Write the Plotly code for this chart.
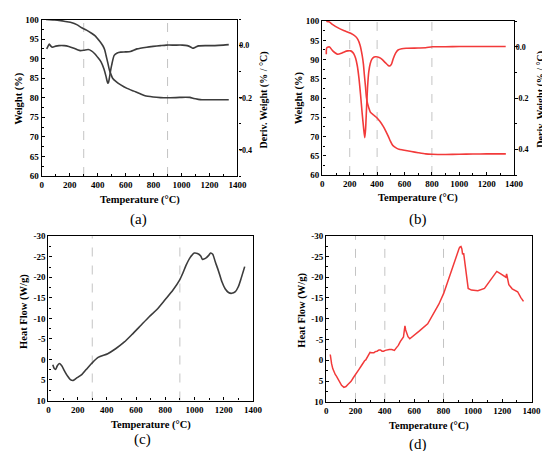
import plotly.graph_objects as go

# ---------------- data ----------------
# (a) TGA / DTG
T_a_tga = [30, 80, 123, 170, 216, 250, 286, 320, 356, 380, 402, 420, 437, 450, 460, 472, 484, 495, 507, 530, 565, 610, 658, 700, 739, 797, 850, 890, 960, 1029, 1060, 1087, 1120, 1146, 1200, 1260, 1338]
W_a = [100, 99.9, 99.8, 99.5, 99.2, 98.7, 97.9, 97.3, 96.5, 95.9, 95, 94.2, 93.3, 92.3, 90.8, 89, 87.1, 86, 85, 84.2, 83.3, 82.4, 81.7, 81.1, 80.5, 80.2, 80.05, 80, 80.05, 80.15, 80.1, 79.8, 79.6, 79.5, 79.5, 79.5, 79.5]
T_a_dtg = [35, 45, 54, 65, 77, 100, 123, 160, 193, 230, 260, 275, 300, 332, 355, 379, 400, 425, 445, 460, 467, 472, 478, 485, 491, 500, 518, 540, 565, 600, 634, 681, 751, 797, 850, 890, 950, 1006, 1041, 1065, 1080, 1100, 1122, 1180, 1238, 1300, 1338]
D_a = [-0.0125, -0.002, 0.006, -0.002, -0.006, -0.002, 0, 0, -0.003, -0.01, -0.017, -0.019, -0.018, -0.015, -0.02, -0.031, -0.045, -0.063, -0.09, -0.119, -0.135, -0.144, -0.14, -0.12, -0.1, -0.075, -0.0375, -0.028, -0.025, -0.024, -0.0225, -0.0125, -0.006, -0.003, 0, 0.002, 0.002, 0.002, 0, -0.005, -0.01, -0.006, -0.001, 0, 0, 0.002, 0.004]

# (b) TGA / DTG
T_b_tga = [29, 50, 76, 112, 160, 207, 243, 260, 275, 291, 300, 307, 315, 322, 330, 339, 351, 375, 398, 420, 446, 465, 481, 497, 512, 527, 541, 560, 588, 650, 700, 755, 800, 900, 1000, 1100, 1200, 1340]
W_b = [100, 99.8, 99.1, 98.3, 97.5, 96.85, 96, 95.2, 93.8, 91.1, 88.8, 86, 83, 80.2, 78.6, 77.5, 76.3, 75.6, 74.9, 74, 72.6, 71.3, 70.1, 68.8, 67.8, 67.3, 67, 66.7, 66.5, 66.1, 65.8, 65.5, 65.4, 65.35, 65.4, 65.45, 65.5, 65.5]
T_b_dtg = [29, 31, 38, 53, 76, 112, 140, 160, 185, 207, 222, 231, 243, 255, 267, 279, 291, 303, 310, 316, 322, 330, 339, 350, 362, 378, 393, 415, 434, 460, 481, 493, 505, 517, 535, 553, 580, 612, 700, 755, 803, 900, 1000, 1100, 1200, 1339]
D_b = [-0.029, -0.006, -0.002, -0.001, -0.016, -0.029, -0.025, -0.02, -0.016, -0.016, -0.022, -0.029, -0.045, -0.073, -0.12, -0.186, -0.26, -0.325, -0.354, -0.32, -0.249, -0.16, -0.098, -0.065, -0.048, -0.04, -0.039, -0.042, -0.048, -0.062, -0.073, -0.075, -0.068, -0.048, -0.025, -0.0125, -0.008, -0.006, -0.005, -0.004, 0, 0, 0.001, 0.001, 0.001, 0.001]

# (c) Heat flow
T_c = [30, 40, 50, 60, 75, 90, 110, 130, 150, 170, 190, 228, 260, 295, 340, 406, 460, 518, 570, 630, 690, 741, 800, 853, 898, 920, 942, 970, 998, 1020, 1043, 1054, 1075, 1099, 1110, 1125, 1143, 1165, 1188, 1210, 1233, 1255, 1280, 1300, 1320, 1344]
HF_c = [1.3, 2.2, 2.4, 1.6, 1.0, 1.5, 2.8, 4.0, 4.9, 5.1, 4.6, 3.7, 2.4, 1.0, -0.5, -1.4, -2.6, -4.2, -6.0, -8.2, -10.4, -12.1, -14.6, -16.9, -19.3, -21.0, -22.9, -24.8, -25.9, -25.8, -25.2, -24.4, -24.6, -25.4, -25.9, -25.6, -23.7, -21.5, -18.9, -17.2, -16.3, -16.1, -16.5, -17.7, -19.8, -22.6]

# (d) Heat flow
T_d = [28, 32, 37, 45, 54, 62, 70, 80, 92, 105, 121, 135, 148, 170, 185, 203, 225, 240, 254, 262, 270, 281, 290, 299, 310, 325, 335, 347, 360, 370, 381, 392, 403, 414, 430, 447, 465, 478, 492, 505, 521, 527, 532, 537, 542, 547, 558, 570, 592, 636, 692, 723, 768, 801, 834, 868, 894, 907, 913, 919, 925, 930, 937, 943, 950, 968, 990, 1034, 1079, 1112, 1145, 1163, 1190, 1219, 1225, 1230, 1237, 1245, 1268, 1290, 1305, 1327, 1345]
HF_d = [-1.4, -0.2, 0.8, 2.0, 2.9, 3.4, 3.8, 4.5, 5.4, 6.0, 6.5, 6.3, 5.8, 5.05, 4.2, 3.1, 2.1, 1.3, 0.35, 0.1, -0.1, -0.7, -1.2, -1.9, -1.8, -1.8, -2.1, -2.2, -2.5, -2.5, -2.2, -2.2, -2.4, -2.5, -2.6, -2.6, -2.4, -3.0, -3.6, -4.5, -5.4, -5.6, -7.0, -8.3, -7.3, -6.7, -5.7, -5.2, -5.9, -7.1, -8.8, -10.6, -13.5, -16.1, -19.6, -23.2, -25.9, -27.0, -27.3, -27.4, -26.8, -25.5, -25.8, -24.0, -22.0, -17.3, -16.9, -16.75, -17.3, -18.9, -20.8, -21.4, -20.8, -20.2, -20.0, -20.8, -19.5, -18.2, -17.2, -16.7, -16.5, -15.1, -14.2]

dash_a = [300, 900]
dash_b = [200, 400, 800]
dash_c = [300, 900]
dash_d = [200, 400, 800]

weight_ticks = [60, 65, 70, 75, 80, 85, 90, 95, 100]
deriv_ticks = [-0.4, -0.2, 0.0]
deriv_labels = ["-0.4", "-0.2", "0.0"]
hf_ticks = [-30, -25, -20, -15, -10, -5, 0, 5, 10]
hf_labels = ["-30", "-25", "-20", "-15", "-10", "-5", "0", "5", "10"]
temp_ticks = [0, 200, 400, 600, 800, 1000, 1200, 1400]

GRAY = "#3c3c3c"
RED = "#f23a3a"
W, H = 550, 451
FONT = "Liberation Serif"

def px(x):
    return x / W

def py(y):
    return 1 - y / H

fig = go.Figure()
fig.add_trace(go.Scatter(x=T_a_tga, y=W_a, xaxis="x", yaxis="y", mode="lines", line=dict(color=GRAY, width=1.6, shape="spline", smoothing=0.6)))
fig.add_trace(go.Scatter(x=T_a_dtg, y=D_a, xaxis="x", yaxis="y2", mode="lines", line=dict(color=GRAY, width=1.6, shape="spline", smoothing=0.6)))
fig.add_trace(go.Scatter(x=T_b_tga, y=W_b, xaxis="x2", yaxis="y3", mode="lines", line=dict(color=RED, width=1.6, shape="spline", smoothing=0.6)))
fig.add_trace(go.Scatter(x=T_b_dtg, y=D_b, xaxis="x2", yaxis="y4", mode="lines", line=dict(color=RED, width=1.6, shape="spline", smoothing=0.6)))
fig.add_trace(go.Scatter(x=T_c, y=HF_c, xaxis="x3", yaxis="y5", mode="lines", line=dict(color=GRAY, width=1.6, shape="spline", smoothing=0.7)))
fig.add_trace(go.Scatter(x=T_d, y=HF_d, xaxis="x4", yaxis="y6", mode="lines", line=dict(color=RED, width=1.5)))

tickfont = dict(family=FONT, size=9, color="black", weight="bold")
rtickfont = dict(family=FONT, size=8, color="black", weight="bold")

def xax(domain, anchor):
    return dict(domain=domain, anchor=anchor, range=[0, 1400], tickvals=temp_ticks,
                ticks="inside", ticklen=3, tickwidth=1, tickcolor="black",
                minor=dict(ticks="inside", ticklen=2, dtick=100, tickcolor="black"),
                showline=True, linecolor="black", linewidth=1.4, mirror=True,
                showgrid=False, zeroline=False, tickfont=tickfont)

def yax(domain, anchor, rng, vals, labels=None, mirror=False, minor_dtick=2.5):
    d = dict(domain=domain, anchor=anchor, range=rng, tickvals=vals,
             ticks="inside", ticklen=3, tickwidth=1, tickcolor="black",
             minor=dict(ticks="inside", ticklen=2, dtick=minor_dtick, tickcolor="black"),
             showline=True, linecolor="black", linewidth=1.4, mirror=mirror,
             showgrid=False, zeroline=False, tickfont=tickfont)
    if labels is not None:
        d["ticktext"] = labels
    return d

def ryax(overlay, anchor):
    return dict(overlaying=overlay, anchor=anchor, side="right", range=[-0.5, 0.1],
                tickvals=deriv_ticks, ticktext=deriv_labels,
                ticks="outside", ticklen=3, tickwidth=1, tickcolor="black",
                minor=dict(ticks="outside", ticklen=2, dtick=0.1, tickcolor="black"),
                ticklabelstandoff=-4,
                showline=True, linecolor="black", linewidth=1.4,
                showgrid=False, zeroline=False, tickfont=rtickfont)

layout = dict(
    width=W, height=H, margin=dict(l=0, r=0, t=0, b=0),
    paper_bgcolor="white", plot_bgcolor="white", showlegend=False,
    xaxis=xax([px(32.5), px(232.5)], "y"),
    yaxis=yax([py(166.7), py(6.7)], "x", [60, 100], weight_ticks),
    yaxis2=ryax("y", "x"),
    xaxis2=xax([px(319.3), px(515.3)], "y3"),
    yaxis3=yax([py(165.7), py(8.3)], "x2", [60, 100], weight_ticks),
    yaxis4=ryax("y3", "x2"),
    xaxis3=xax([px(39.3), px(248.3)], "y5"),
    yaxis5=yax([py(396.3), py(228.3)], "x3", [10, -30], hf_ticks, hf_labels, mirror=True),
    xaxis4=xax([px(323.2), px(533.2)], "y6"),
    yaxis6=yax([py(397.7), py(227.7)], "x4", [10, -30], hf_ticks, hf_labels, mirror=True),
)
fig.update_layout(**layout)

shapes = []
for xr, yr, vals in [("x", "y", dash_a), ("x2", "y3", dash_b), ("x3", "y5", dash_c), ("x4", "y6", dash_d)]:
    for v in vals:
        shapes.append(dict(type="line", xref=xr, yref=yr + " domain", x0=v, x1=v, y0=0, y1=1,
                           line=dict(color="#c4c4c4", width=1, dash="dash"), layer="below"))
fig.update_layout(shapes=shapes)

titlefont = dict(family=FONT, size=10.5, color="black", weight="bold")
rtitlefont = dict(family=FONT, size=10, color="black", weight="bold")
labfont = dict(family=FONT, size=15, color="black")
ann = [
    (9, 87, "Weight (%)", -90, titlefont),
    (259.5, 88.5, "Deriv. Weight (% / °C)", -90, rtitlefont),
    (132.7, 191.7, "Temperature (°C)", 0, titlefont),
    (131, 211, "(a)", 0, labfont),
    (295.7, 87, "Weight (%)", -90, titlefont),
    (542.5, 88, "Deriv. Weight (% / °C)", -90, rtitlefont),
    (417, 189, "Temperature (°C)", 0, titlefont),
    (417.3, 211, "(b)", 0, labfont),
    (15, 305, "Heat Flow (W/g)", -90, titlefont),
    (144, 421.7, "Temperature (°C)", 0, titlefont),
    (135, 436, "(c)", 0, labfont),
    (299, 304, "Heat Flow (W/g)", -90, titlefont),
    (428.7, 422, "Temperature (°C)", 0, titlefont),
    (417.3, 441.7, "(d)", 0, labfont),
]
fig.update_layout(annotations=[dict(x=px(x), y=py(y), xref="paper", yref="paper", text=t, textangle=a,
                                    showarrow=False, font=f, xanchor="center", yanchor="middle")
                               for x, y, t, a, f in ann])

fig.write_html("out.html")
